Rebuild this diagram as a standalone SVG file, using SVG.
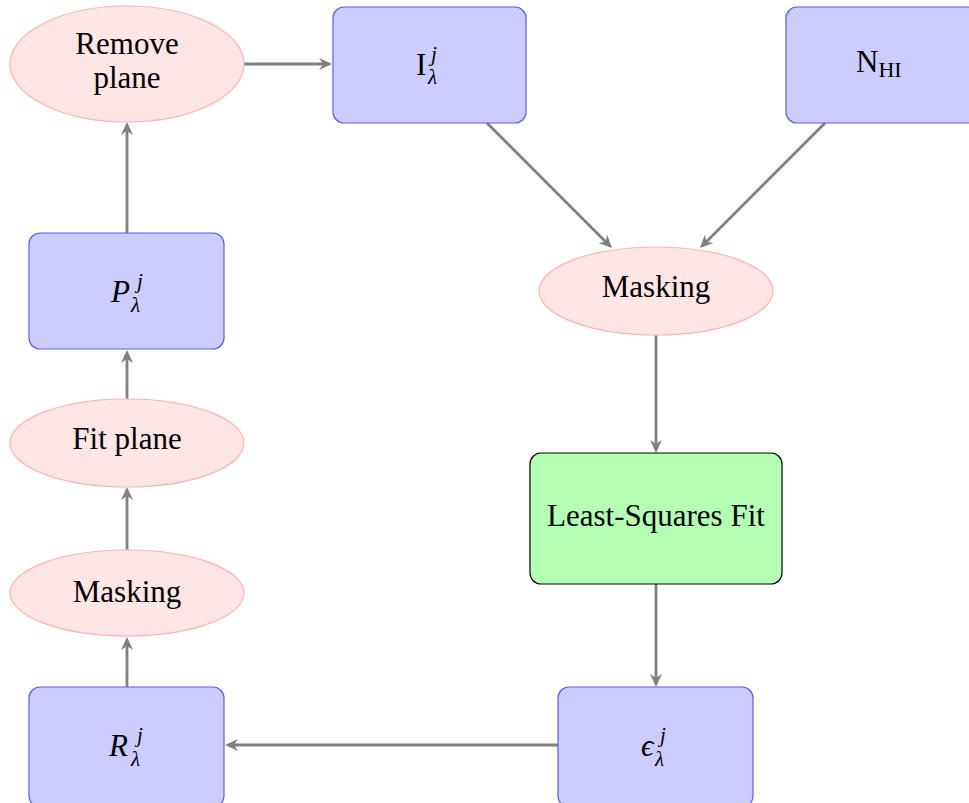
<svg xmlns="http://www.w3.org/2000/svg" width="969" height="803" viewBox="0 0 969 803">
<style>
.ell{fill:#ffe6e6;stroke:#ffb3b3;stroke-width:1.2}
.box{fill:#ccccff;stroke:#5a5aff;stroke-width:1.2}
.lsq{fill:#b3ffb3;stroke:#000;stroke-width:1.2}
.t{font-family:"Liberation Serif","DejaVu Serif",serif;font-size:31px;fill:#000;text-anchor:middle}
.m{font-family:"Liberation Serif","DejaVu Serif",serif;font-size:31px;fill:#000}
.s{font-family:"Liberation Serif","DejaVu Serif",serif;font-size:21px;fill:#000;font-style:italic}
.it{font-style:italic}
.c{fill:none;stroke:#808080;stroke-width:2.8;marker-end:url(#ah)}
</style>
<defs>
<marker id="ah" markerUnits="userSpaceOnUse" viewBox="-11 -7 15 14" refX="0" refY="0" markerWidth="15" markerHeight="14" orient="auto">
<path d="M3,0 L-10,-6 L-6,0 L-10,6 Z" fill="#808080"/>
</marker>
</defs>
<g id="connectors">
<path class="c" d="M244,64 L329,64"/>
<path class="c" d="M487,123 L609.9,245.9"/>
<path class="c" d="M825,123 L702.1,245.9"/>
<path class="c" d="M656,335 L656,450"/>
<path class="c" d="M656,584 L656,684"/>
<path class="c" d="M558,745 L228,745"/>
<path class="c" d="M127,687 L127,640"/>
<path class="c" d="M127,550 L127,490"/>
<path class="c" d="M127,399 L127,353"/>
<path class="c" d="M127,233 L127,125"/>
</g>
<g id="remove-plane">
<ellipse class="ell" cx="127" cy="64" rx="117" ry="58"/>
<text class="t" x="127" y="54">Remove</text>
<text class="t" x="127" y="88">plane</text>
</g>
<g id="I">
<rect class="box" x="333" y="7" width="193" height="116" rx="11"/>
<text class="m" x="416" y="75">I</text>
<text class="s" x="431" y="61">j</text>
<text class="s" x="428" y="84">λ</text>
</g>
<g id="NHI">
<rect class="box" x="786" y="7" width="193" height="116" rx="11"/>
<text class="m" x="856" y="72">N<tspan font-size="22" dy="5">HI</tspan></text>
</g>
<g id="masking-right">
<ellipse class="ell" cx="656" cy="291" rx="117" ry="44"/>
<text class="t" x="656" y="297">Masking</text>
</g>
<g id="least-squares">
<rect class="lsq" x="530" y="453" width="252" height="131" rx="11"/>
<text class="t" x="656" y="526">Least-Squares Fit</text>
</g>
<g id="epsilon">
<rect class="box" x="558" y="687" width="195" height="120" rx="11"/>
<text class="m it" x="641" y="756">ϵ</text>
<text class="s" x="660" y="742">j</text>
<text class="s" x="655" y="766">λ</text>
</g>
<g id="R">
<rect class="box" x="29" y="687" width="195" height="120" rx="11"/>
<text class="m it" x="109" y="756">R</text>
<text class="s" x="137" y="742">j</text>
<text class="s" x="131" y="766">λ</text>
</g>
<g id="masking-left">
<ellipse class="ell" cx="127" cy="593" rx="117" ry="43"/>
<text class="t" x="127" y="602">Masking</text>
</g>
<g id="fit-plane">
<ellipse class="ell" cx="127" cy="443" rx="117" ry="44"/>
<text class="t" x="127" y="449">Fit plane</text>
</g>
<g id="P">
<rect class="box" x="29" y="233" width="195" height="116" rx="11"/>
<text class="m it" x="111" y="302">P</text>
<text class="s" x="137" y="288">j</text>
<text class="s" x="131" y="312">λ</text>
</g>
</svg>
